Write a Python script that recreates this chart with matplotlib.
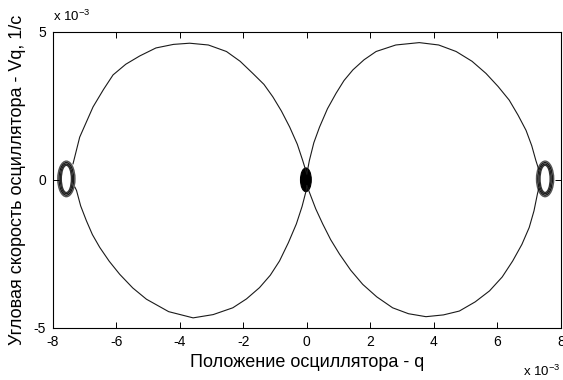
import matplotlib
matplotlib.use("Agg")
import matplotlib.pyplot as plt
from matplotlib.patches import Ellipse

plt.rcParams["font.family"] = ["Liberation Sans", "DejaVu Sans"]
plt.rcParams["mathtext.default"] = "regular"

# phase trajectory, units of 1e-3
q_ul = [-7.36, -7.15, -6.73, -6.40, -6.10, -5.70, -5.26, -4.75, -4.20, -3.69,
        -3.10, -2.53, -2.10, -1.70, -1.35, -1.07, -0.80, -0.54, -0.30, -0.13, 0.0]
v_ul = [0.54, 1.44, 2.46, 3.05, 3.54, 3.90, 4.18, 4.45, 4.57, 4.61,
        4.55, 4.33, 4.00, 3.59, 3.22, 2.80, 2.32, 1.78, 1.20, 0.65, 0.20]

q_ur = [0.0, 0.08, 0.22, 0.40, 0.65, 0.92, 1.17, 1.45, 1.80, 2.18, 2.80, 3.54,
        4.15, 4.70, 5.20, 5.64, 6.02, 6.37, 6.65, 6.90, 7.08, 7.21, 7.30]
v_ur = [0.20, 0.65, 1.25, 1.78, 2.40, 2.92, 3.35, 3.71, 4.05, 4.33, 4.55, 4.63,
        4.55, 4.33, 4.00, 3.59, 3.15, 2.69, 2.18, 1.67, 1.15, 0.65, 0.35]

q_lr = [0.0, 0.08, 0.28, 0.50, 0.75, 1.03, 1.38, 1.76, 2.20, 2.70, 3.20, 3.75,
        4.30, 4.80, 5.30, 5.75, 6.15, 6.48, 6.77, 7.00, 7.15, 7.26, 7.30]
v_lr = [-0.20, -0.42, -0.98, -1.49, -2.02, -2.51, -3.05, -3.53, -3.95, -4.32, -4.52, -4.62,
        -4.56, -4.43, -4.12, -3.75, -3.28, -2.74, -2.18, -1.61, -1.05, -0.47, -0.30]

q_ll = [-7.30, -7.25, -7.12, -6.94, -6.75, -6.52, -6.22, -5.89, -5.48, -5.05, -4.35, -3.58,
        -2.95, -2.33, -1.90, -1.49, -1.15, -0.86, -0.58, -0.33, -0.15, -0.02, 0.0]
v_ll = [-0.25, -0.36, -0.88, -1.38, -1.85, -2.28, -2.75, -3.19, -3.65, -4.03, -4.45, -4.66,
        -4.55, -4.32, -4.02, -3.64, -3.22, -2.74, -2.12, -1.49, -0.90, -0.36, -0.20]

# small closed orbits near the turning points
loop_q = [-7.57, 7.50]
loop_w = [0.54, 0.46, 0.38, 0.32]
loop_h = [1.20, 1.10, 1.00, 0.92]
# dense oscillation at the centre
blob_q, blob_w, blob_h = -0.03, 0.34, 0.80

xticks = [-8, -6, -4, -2, 0, 2, 4, 6, 8]
yticks = [-5, 0, 5]

fig = plt.figure(figsize=(5.63, 3.80), dpi=100)
ax = fig.add_axes([0.0936, 0.137, 0.9028, 0.7797])

lc = "#1a1a1a"
for qq, vv in [(q_ul, v_ul), (q_ur, v_ur), (q_lr, v_lr), (q_ll, v_ll)]:
    ax.plot(qq, vv, color=lc, lw=0.8)

ring_col = ["#555555", "#1a1a1a", "#1a1a1a", "#333333"]
for cq in loop_q:
    for w, h, c in zip(loop_w, loop_h, ring_col):
        ax.add_patch(Ellipse((cq, 0.03), w, h, fill=False, ec=c, lw=1.0))
ax.add_patch(Ellipse((blob_q, 0.0), blob_w, blob_h, fc="black", ec="black", lw=0.8))

ax.set_xlim(-8, 8)
ax.set_ylim(-5, 5)
ax.set_xticks(xticks)
ax.set_yticks(yticks)
ax.set_xticklabels([str(t) for t in xticks])
ax.set_yticklabels([str(t) for t in yticks])
ax.tick_params(direction="in", top=True, right=True, length=4.5, width=0.7,
               labelsize=10, pad=5)
for s in ax.spines.values():
    s.set_linewidth(0.8)

ax.set_xlabel("Положение осциллятора - q", fontsize=13, labelpad=4)
ax.set_ylabel("Угловая скорость осциллятора - Vq, 1/c", fontsize=13, labelpad=5)

fig.text(53 / 563, 1 - 21 / 380, r"x 10$^{-3}$", fontsize=9.5)
fig.text(523 / 563, 4 / 380, r"x 10$^{-3}$", fontsize=9.5)

fig.savefig("out.png", dpi=100)
